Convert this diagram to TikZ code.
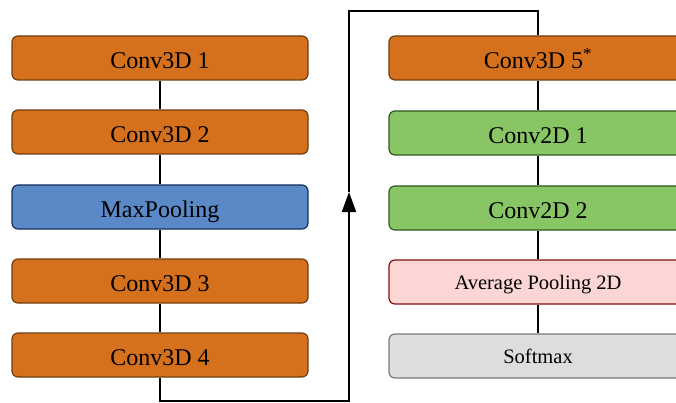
\documentclass[tikz,border=0pt]{standalone}
\usepackage{fontspec}
\setmainfont{Liberation Serif}
\usetikzlibrary{arrows.meta}
\pgfdeclarelayer{bg}
\pgfsetlayers{bg,main}
\definecolor{orfill}{RGB}{213,112,29}
\definecolor{ordraw}{RGB}{110,62,16}
\definecolor{blfill}{RGB}{91,136,198}
\definecolor{bldraw}{RGB}{22,50,90}
\definecolor{grfill}{RGB}{136,198,101}
\definecolor{grdraw}{RGB}{45,90,28}
\definecolor{pkfill}{RGB}{252,213,213}
\definecolor{pkdraw}{RGB}{127,16,16}
\definecolor{gyfill}{RGB}{221,221,221}
\definecolor{gydraw}{RGB}{120,120,120}
\tikzset{
  layer/.style={rectangle, rounded corners=6pt, line width=1.2pt, inner sep=0pt,
    font=\fontsize{24}{28}\selectfont, text height=20.6pt, text depth=0pt},
  leftbox/.style={layer, minimum width=296pt, minimum height=44pt},
  rightbox/.style={layer, minimum width=298pt, minimum height=44pt},
  orange/.style={fill=orfill, draw=ordraw},
  blue/.style={fill=blfill, draw=bldraw},
  green/.style={fill=grfill, draw=grdraw},
  small/.style={font=\fontsize{20.5}{24}\selectfont, text height=14.5pt},
  pink/.style={fill=pkfill, draw=pkdraw, small},
  gray/.style={fill=gyfill, draw=gydraw, small},
  conn/.style={line width=2pt, draw=black},
}
\begin{document}
\begin{tikzpicture}[x=1pt,y=-1pt]
\useasboundingbox (0,0) rectangle (676,403);
\clip (0,0) rectangle (676,403);
% left column
\node[leftbox, orange] (c1) at (160,58) {Conv3D 1};
\node[leftbox, orange] (c2) at (160,132) {Conv3D 2};
\node[leftbox, blue] (mp) at (160,207) {MaxPooling};
\node[leftbox, orange] (c3) at (160,281) {Conv3D 3};
\node[leftbox, orange] (c4) at (160,355) {Conv3D 4};
% right column
\node[rightbox, orange] (c5) at (538,58) {Conv3D 5\textsuperscript{*}};
\node[rightbox, green] (d1) at (538,133) {Conv2D 1};
\node[rightbox, green] (d2) at (538,208) {Conv2D 2};
\node[rightbox, pink] (ap) at (538,282) {Average Pooling 2D};
\node[rightbox, gray] (sm) at (538,356) {Softmax};
% connectors
\coordinate (bl) at (160,401);
\coordinate (br) at (349,401);
\coordinate (tip) at (349,192);
\coordinate (tl) at (349,11);
\coordinate (tr) at (538,11);
\begin{pgfonlayer}{bg}
\draw[conn] (c1) -- (c2);
\draw[conn] (c2) -- (mp);
\draw[conn] (mp) -- (c3);
\draw[conn] (c3) -- (c4);
\draw[conn] (c5) -- (d1);
\draw[conn] (d1) -- (d2);
\draw[conn] (d2) -- (ap);
\draw[conn] (ap) -- (sm);
\end{pgfonlayer}
\draw[conn, -{Triangle[length=20pt,width=14pt]}] (c4.south) -- (bl) -- (br) -- (tip);
\draw[conn] (tip) -- (tl) -- (tr) -- (c5.north);
\end{tikzpicture}
\end{document}
